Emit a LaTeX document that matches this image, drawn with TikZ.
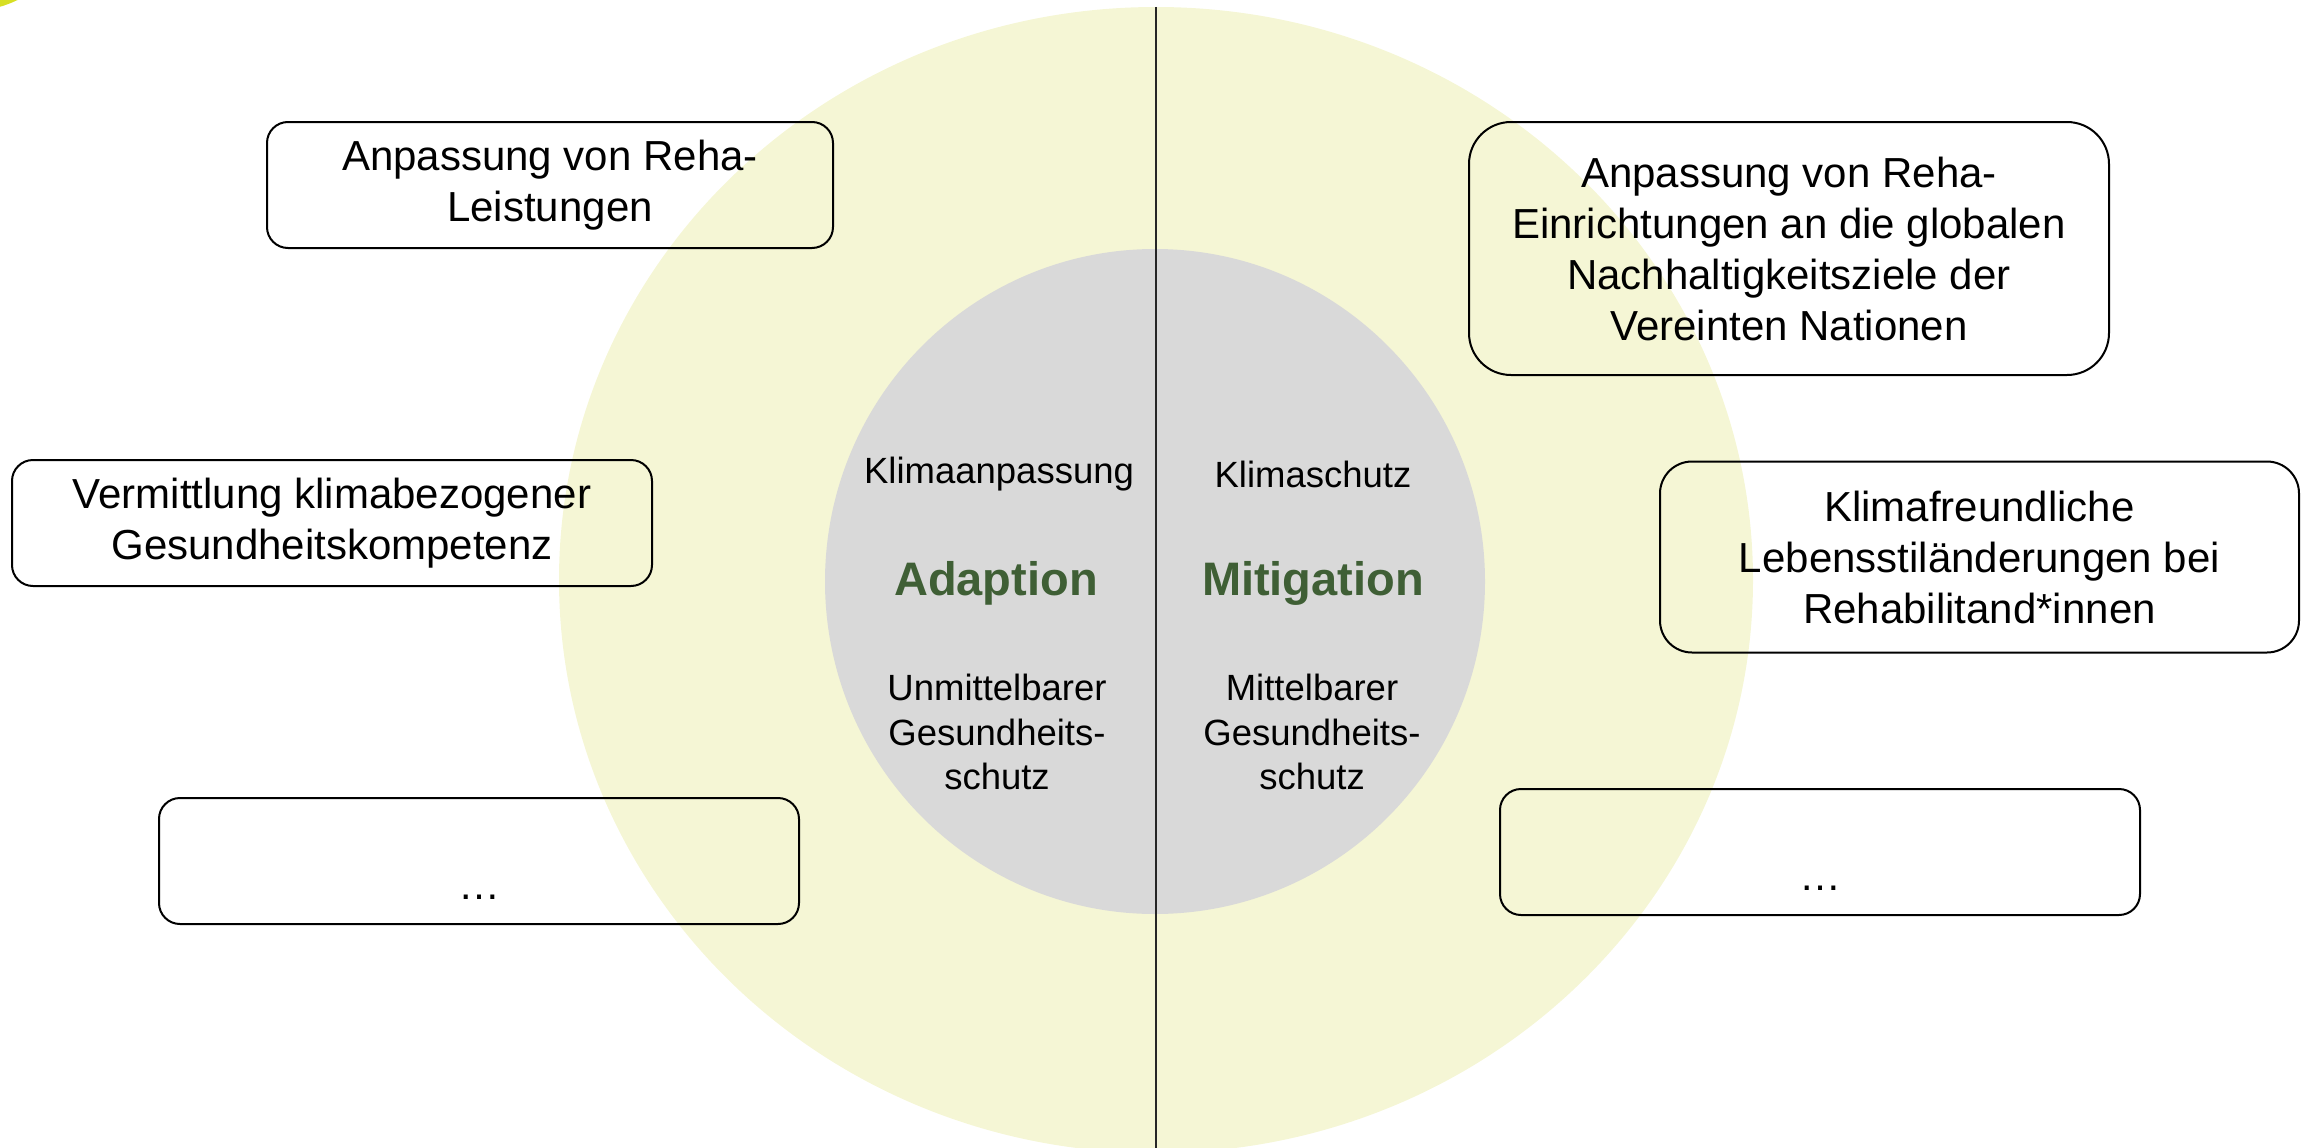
\documentclass[tikz,border=0pt]{standalone}
\usepackage{fontspec}
\setmainfont{Liberation Sans}
\definecolor{outerfill}{HTML}{F5F6D5}
\definecolor{innerfill}{HTML}{D9D9D9}
\definecolor{titlegreen}{HTML}{3F5F35}
\definecolor{blobyellow}{HTML}{D7DF23}
\definecolor{axisgray}{HTML}{262626}
\tikzset{
  box/.style={draw=black, line width=2pt, fill=none, align=center, inner sep=0pt,
    font=\fontsize{42}{51}\selectfont},
  boxtext/.style={font=\fontsize{42}{51}\selectfont, inner sep=0pt},
  innertext/.style={align=center, inner sep=0pt, font=\fontsize{36.5}{44.5}\selectfont},
  titletext/.style={inner sep=0pt, text=titlegreen, font=\fontsize{47}{56}\selectfont\bfseries}
}
\begin{document}
\begin{tikzpicture}[x=1pt,y=-1pt]
\useasboundingbox (0,0) rectangle (2303,1148);
% corner blob
\begin{scope}
\clip (0,0) rectangle (2303,1148);
\fill[blobyellow] (-30,-97) circle [radius=108];
\end{scope}
% circles
\fill[outerfill] (1156,580) ellipse [x radius=597, y radius=573];
\fill[innerfill] (1155,581.5) ellipse [x radius=330, y radius=332.5];
\coordinate (axtop) at (1156,7);
\coordinate (axbot) at (1156,1148);
\draw[axisgray, line width=2.5pt] (axtop) -- (axbot);
% inner texts
\node[innertext] (kan) at (999,474) {Klimaanpassung};
\node[innertext] (ksc) at (1313,474) {Klimaschutz};
\node[titletext] (ada) at (996,583) {Adaption};
\node[titletext] (mit) at (1313,583) {Mitigation};
\node[innertext] (umg) at (997,732) {Unmittelbarer\\Gesundheits-\\schutz};
\node[innertext] (mgs) at (1312,732) {Mittelbarer\\Gesundheits-\\schutz};
% left boxes
\node[box, minimum width=566, minimum height=126, rounded corners=21] (b1) at (550,185)
  {Anpassung von Reha-\\Leistungen};
\node[box, minimum width=640, minimum height=126, rounded corners=21] (b2) at (332,523)
  {Vermittlung klimabezogener\\Gesundheitskompetenz};
\node[box, minimum width=640, minimum height=126, rounded corners=21] (b3) at (479,861) {};
\node[boxtext, anchor=base] (d3) at (479,899) {…};
% right boxes
\node[box, minimum width=640, minimum height=253, rounded corners=42] (b4) at (1789,248.5)
  {Anpassung von Reha-\\Einrichtungen an die globalen\\Nachhaltigkeitsziele der\\Vereinten Nationen};
\node[box, minimum width=639, minimum height=191, rounded corners=32] (b5) at (1979.5,557)
  {Klimafreundliche\\Lebensstiländerungen bei\\Rehabilitand*innen};
\node[box, minimum width=640, minimum height=126, rounded corners=21] (b6) at (1820,852) {};
\node[boxtext, anchor=base] (d6) at (1820,890) {…};
\end{tikzpicture}
\end{document}
